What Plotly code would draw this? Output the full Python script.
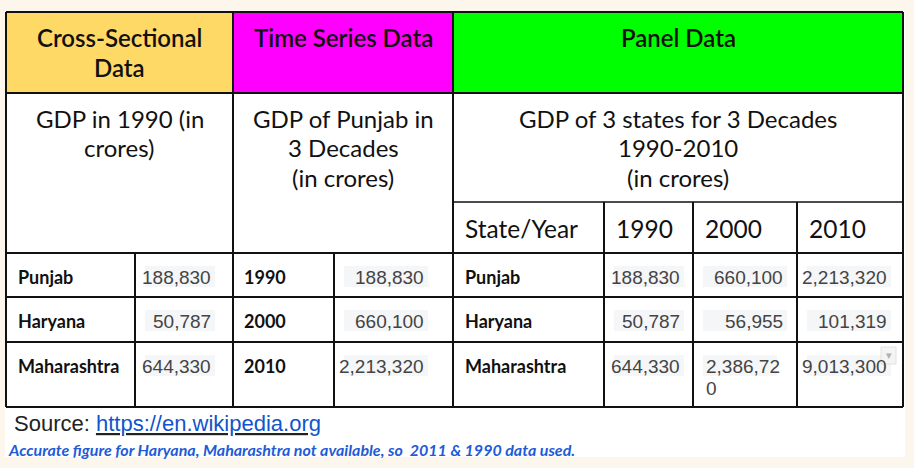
import plotly.graph_objects as go

# ---- data ----
group_titles = ["Cross-Sectional<br>Data", "Time Series Data", "Panel Data"]
group_colors = ["#FFD966", "#FF00FF", "#00FF00"]
group_notes = [
    "GDP in 1990 (in<br>crores)",
    "GDP of Punjab in<br>3 Decades<br>(in crores)",
    "GDP of 3 states for 3 Decades<br>1990-2010<br>(in crores)",
]
states = ["Punjab", "Haryana", "Maharashtra"]
years = ["1990", "2000", "2010"]
panel_head = ["State/Year", "1990", "2000", "2010"]

gdp_1990 = ["188,830", "50,787", "644,330"]
gdp_punjab = ["188,830", "660,100", "2,213,320"]
panel_1990 = ["188,830", "50,787", "644,330"]
panel_2000 = ["660,100", "56,955", "2,386,720"]
panel_2010 = ["2,213,320", "101,319", "9,013,300"]

source_label = "Source: "
source_link = "https://en.wikipedia.org"
footnote = "Accurate figure for Haryana, Maharashtra not available, so  2011 & 1990 data used."

# ---- layout (pixel grid of the table) ----
W, H = 914, 468
X = [6, 135, 233, 334, 453, 604, 693, 797, 903]   # column edges
Y = [12, 93, 253, 297, 342, 407]                  # row edges
Y_SUB = 202                                       # panel sub-header line
GROUP_X = [(X[0], X[2]), (X[2], X[4]), (X[4], X[8])]

HEAD_FONT = "Lato, 'Open Sans', sans-serif"
NUM_FONT = "'Liberation Sans', Arial, sans-serif"
INK = "#111111"
LINE = "#111111"

fig = go.Figure()
shapes = []
ann = []


def rect(x0, y0, x1, y1, fill, line=None, width=0):
    shapes.append(dict(type="rect", xref="x", yref="y", x0=x0, y0=y0, x1=x1, y1=y1,
                       fillcolor=fill, line=dict(color=line or fill, width=width), layer="below"))


def seg(x0, y0, x1, y1, width=2, color=LINE):
    shapes.append(dict(type="line", xref="x", yref="y", x0=x0, y0=y0, x1=x1, y1=y1,
                       line=dict(color=color, width=width), layer="above"))


def text(x, y, s, size, color=INK, family=HEAD_FONT, xanchor="left", yanchor="middle",
         align="left", weight="normal"):
    ann.append(dict(x=x, y=y, xref="x", yref="y", text=s, showarrow=False,
                    xanchor=xanchor, yanchor=yanchor, align=align,
                    font=dict(family=family, size=size, color=color, weight=weight)))


def block(x, y, s, size, gap, **kw):
    # multi-line centred text with a fixed line gap
    for j, ln in enumerate(s.split("<br>")):
        text(x, y + j * gap, ln, size, xanchor="center", align="center", **kw)


# white sheet behind the table
rect(5, Y[0], 905, 457, "#FFFFFF")

# coloured group headers + sub headers
for (x0, x1), title, col, note in zip(GROUP_X, group_titles, group_colors, group_notes):
    rect(x0, Y[0], x1, Y[1], col)
    block((x0 + x1) / 2, Y[0] + 25, title, 24, 30, weight=600)
    block((x0 + x1) / 2, Y[1] + 25, note, 24, 29.5)

# panel column headers
for i, h in enumerate(panel_head):
    text(X[4 + i] + 10, (Y_SUB + Y[2]) / 2 + 1, h, 24.5)

# number cell helper: light grey chip, right aligned, optional wrap
NUM_PAD = [20, 27, 11, 12, 14]    # right padding per numeric column
NUM_COLS = [1, 3, 5, 6, 7]        # left edge index of each numeric column
WRAP_AT = [None, None, None, 8, None]


def number(ci, r, s):
    left = X[NUM_COLS[ci]]
    right = X[NUM_COLS[ci] + 1] - NUM_PAD[ci]
    yc = Y[2 + r] + 24
    wrap = WRAP_AT[ci]
    if wrap and len(s) > wrap:
        lines = [s[k:k + wrap] for k in range(0, len(s), wrap)]
        rect(left + 10, yc - 11, left + 84, yc + 10, "#F5F6F7")
        for j, ln in enumerate(lines):
            text(left + 11, yc + j * 22, ln, 19, color="#444444", family=NUM_FONT)
    else:
        rect(left + 10, yc - 11, right + 2, yc + 10, "#F5F6F7")
        text(right, yc, s, 19, color="#444444", family=NUM_FONT, xanchor="right")


for r in range(3):
    yc = Y[2 + r] + 24
    text(X[0] + 10, yc, states[r], 18, weight="bold")
    text(X[2] + 9, yc, years[r], 18, weight="bold")
    text(X[4] + 10, yc, states[r], 18, weight="bold")
    number(0, r, gdp_1990[r])
    number(1, r, gdp_punjab[r])
    number(2, r, panel_1990[r])
    number(3, r, panel_2000[r])
    number(4, r, panel_2010[r])

# dropdown chip in the last cell
rect(881, 347, 896, 364, "#F4F4F4", line="#E2E2E2", width=1)
text(888.5, 354, "\u25BE", 11, color="#B0B0B0", xanchor="center")

# grid lines
for y in (Y[0], Y[1], Y[2], Y[3], Y[4], Y[5]):
    seg(X[0], y, X[8], y)
seg(X[4], Y_SUB, X[8], Y_SUB, width=1.6)
for x in (X[0], X[2], X[4], X[8]):
    seg(x, Y[0], x, Y[5])
for x in (X[1], X[3]):
    seg(x, Y[2], x, Y[5])
for x in (X[5], X[6], X[7]):
    seg(x, Y_SUB, x, Y[5])

# source + footnote
text(12, 423, source_label + "<u><span style='color:#1155CC'>" + source_link + "</span></u>",
     22, color="#222222", family=NUM_FONT)
text(6, 449, "<i>" + footnote + "</i>", 16, color="#1E5BD8", weight="bold")

fig.update_layout(
    width=W, height=H,
    margin=dict(l=0, r=0, t=0, b=0),
    paper_bgcolor="#FDF6EC", plot_bgcolor="#FDF6EC",
    xaxis=dict(range=[0, W], visible=False, fixedrange=True),
    yaxis=dict(range=[H, 0], visible=False, fixedrange=True),
    shapes=shapes, annotations=ann, showlegend=False,
)

fig.write_html("out.html", config={"displayModeBar": False},
               post_script="document.body.style.margin='0';")
